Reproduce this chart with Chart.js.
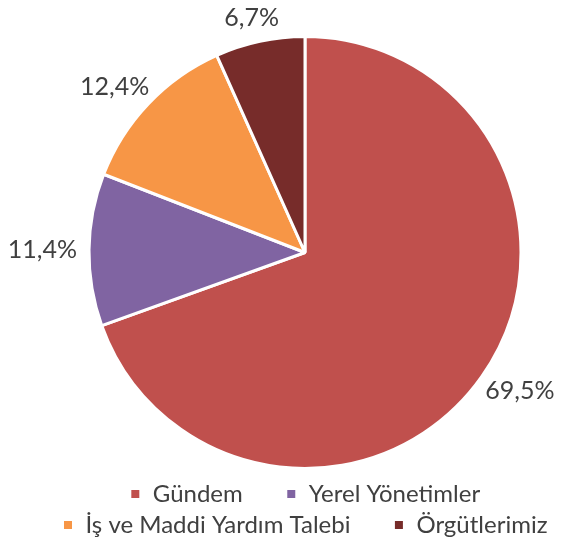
<!DOCTYPE html>
<html>
<head>
<meta charset="utf-8">
<script src="https://cdn.jsdelivr.net/npm/chart.js@4"></script>
<style>
  html, body { margin: 0; padding: 0; background: #fff; }
  #wrap { width: 563px; height: 539px; }
</style>
</head>
<body>
<div id="wrap"><canvas id="pie-chart"></canvas></div>
<script>
var categories = ["Gündem", "Yerel Yönetimler", "İş ve Maddi Yardım Talebi", "Örgütlerimiz"];
var shares = [69.5, 11.4, 12.4, 6.7];
var valueLabels = ["69,5%", "11,4%", "12,4%", "6,7%"];
var colors = ["#C0504D", "#8064A2", "#F79646", "#772C2A"];

var FONT = "Lato, 'Open Sans', sans-serif";

// draws the percentage next to each slice, outside the pie
var outsideLabels = {
  id: 'outsideLabels',
  afterDatasetsDraw: function(chart) {
    var ctx = chart.ctx;
    var meta = chart.getDatasetMeta(0);
    ctx.save();
    ctx.font = "25px " + FONT;
    ctx.fillStyle = "#404040";
    ctx.textAlign = "center";
    ctx.textBaseline = "middle";
    meta.data.forEach(function(arc, i) {
      var p = arc.getProps(['x', 'y', 'startAngle', 'endAngle', 'outerRadius'], true);
      var mid = (p.startAngle + p.endAngle) / 2;
      var dx = Math.cos(mid), dy = Math.sin(mid);
      var txt = valueLabels[i];
      var w = ctx.measureText(txt).width;
      var r = p.outerRadius + 12;
      var x = p.x + dx * r + dx * w / 2;
      var y = p.y + dy * r + dy * 12;
      ctx.fillText(txt, x, y);
    });
    ctx.restore();
  }
};

var defaultLabels = Chart.overrides.pie.plugins.legend.labels.generateLabels;

new Chart(document.getElementById("pie-chart"), {
  type: 'pie',
  data: {
    labels: categories,
    datasets: [{
      data: shares,
      backgroundColor: colors,
      borderColor: "#ffffff",
      borderWidth: 3
    }]
  },
  plugins: [outsideLabels],
  options: {
    responsive: true,
    maintainAspectRatio: false,
    animation: false,
    rotation: 0,
    radius: 216,
    layout: {
      padding: { top: 30, left: 47, right: 0, bottom: -8 }
    },
    plugins: {
      tooltip: { enabled: false },
      legend: {
        position: 'bottom',
        labels: {
          font: { family: FONT, size: 24 },
          color: "#404040",
          boxWidth: 11,
          boxHeight: 11,
          padding: 7,
          generateLabels: function(chart) {
            var items = defaultLabels(chart);
            // wider gap after the first item of each row, like the original
            items[0].text += "\u2003\u2003";
            items[2].text += "\u2003\u2003";
            return items;
          }
        }
      }
    }
  }
});
</script>
</body>
</html>
